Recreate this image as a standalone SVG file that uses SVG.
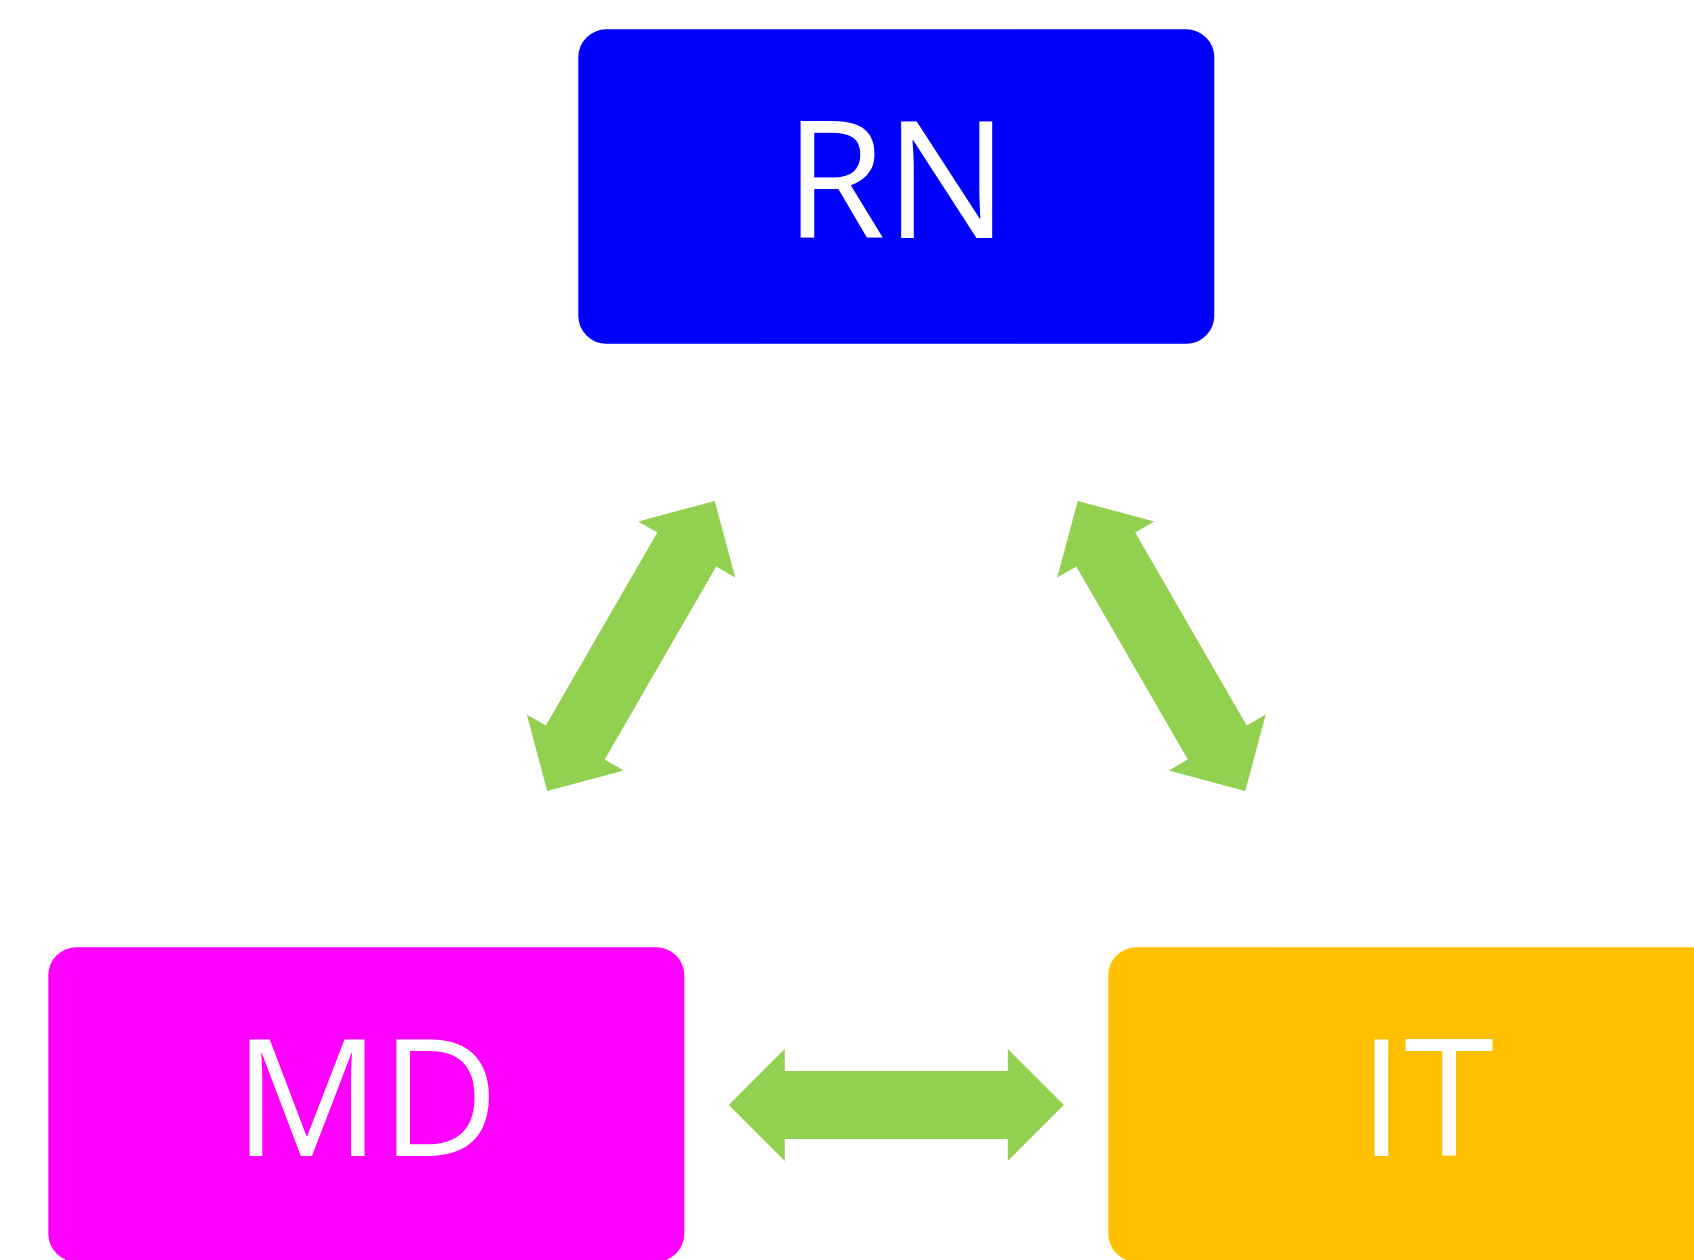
<svg xmlns="http://www.w3.org/2000/svg" width="1694" height="1260" viewBox="0 0 1694 1260">
  <style>
    .box { stroke: none; }
    .lbl { font-family: "Open Sans", "Liberation Sans", sans-serif; font-size: 163px; fill: #FFFFFF; text-anchor: middle; }
    .arrow { fill: #92D050; stroke: none; }
  </style>
  <defs>
    <path id="dblArrow" d="M -167.5,0 L -111.5,-56 L -111.5,-34 L 111.5,-34 L 111.5,-56 L 167.5,0 L 111.5,56 L 111.5,34 L -111.5,34 L -111.5,56 Z"/>
  </defs>
  <rect width="1694" height="1260" fill="#FFFFFF"/>
  <g id="connectors">
    <use href="#dblArrow" class="arrow" transform="translate(631,646) rotate(-60)"/>
    <use href="#dblArrow" class="arrow" transform="translate(1161.5,646) rotate(60)"/>
    <use href="#dblArrow" class="arrow" transform="translate(896.3,1105)"/>
  </g>
  <g id="node-RN">
    <rect class="box" x="578.3" y="29.3" width="636" height="314.5" rx="28" ry="28" fill="#0000FF"/>
    <text class="lbl" x="896.3" y="238.3">RN</text>
  </g>
  <g id="node-MD">
    <rect class="box" x="48.3" y="947.3" width="636" height="314.5" rx="28" ry="28" fill="#FF00FF"/>
    <text class="lbl" x="366.3" y="1156">MD</text>
  </g>
  <g id="node-IT">
    <rect class="box" x="1108.3" y="947.3" width="636" height="314.5" rx="28" ry="28" fill="#FFC000"/>
    <text class="lbl" x="1426.3" y="1156">IT</text>
  </g>
</svg>
